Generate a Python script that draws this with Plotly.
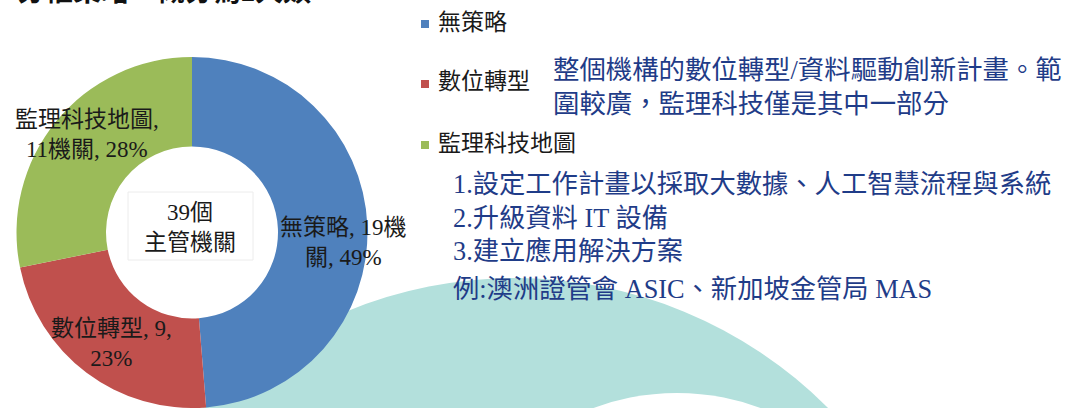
import plotly.graph_objects as go

W, H = 1065, 408

# ---- data ----
categories = ["無策略", "數位轉型", "監理科技地圖"]
counts = [19, 9, 11]
colors = ["#4f81bd", "#c0504d", "#9bbb59"]
total_label = "主管機關"
title_text = "分權策略—概分為2大類"
note_text = ["整個機構的數位轉型/資料驅動創新計畫。範", "圍較廣，監理科技僅是其中一部分"]
list_lines = [
    "1.設定工作計畫以採取大數據、人工智慧流程與系統",
    "2.升級資料 IT 設備",
    "3.建立應用解決方案",
    "例:澳洲證管會 ASIC、新加坡金管局 MAS",
]

total = sum(counts)
pcts = [round(100 * v / total) for v in counts]


def px(x):
    return x / W


def py(y):
    return 1 - y / H


SERIF = "Liberation Serif, Noto Sans CJK TC, serif"
TEXT_BLUE = "#1f3c88"

fig = go.Figure()
fig.add_trace(go.Pie(
    labels=categories,
    values=counts,
    marker=dict(colors=colors, line=dict(width=0)),
    hole=0.49,
    sort=False,
    direction="clockwise",
    rotation=0,
    textinfo="none",
    hoverinfo="label+value+percent",
    showlegend=False,
    domain=dict(x=[px(14), px(370)], y=[0, py(57)]),
))

shapes = []
# background teal arc (slide decoration)
cx, cy, r = 515, 720, 442
shapes.append(dict(type="circle", xref="paper", yref="paper", layer="below",
                   x0=px(cx - r), x1=px(cx + r), y0=py(cy + r), y1=py(cy - r),
                   fillcolor="#b3e0dc", line=dict(width=0)))
cx2, cy2, r2 = 677, 633, 240
shapes.append(dict(type="circle", xref="paper", yref="paper", layer="below",
                   x0=px(cx2 - r2), x1=px(cx2 + r2), y0=py(cy2 + r2), y1=py(cy2 - r2),
                   fillcolor="#ffffff", line=dict(width=0)))
# faint box around center text
shapes.append(dict(type="rect", xref="paper", yref="paper", layer="above",
                   x0=px(128), x1=px(253), y0=py(260), y1=py(192),
                   fillcolor="rgba(0,0,0,0)", line=dict(color="#ececec", width=1)))

annotations = []
# slice labels
slice_texts = [
    f"{categories[0]}, {counts[0]}機<br>關, {pcts[0]}%",
    f"{categories[1]}, {counts[1]},<br>{pcts[1]}%",
    f"{categories[2]},<br>{counts[2]}機關, {pcts[2]}%",
]
slice_pos = [(343, 242), (111, 343), (87, 135)]
for t, (x, y) in zip(slice_texts, slice_pos):
    annotations.append(dict(text=t, x=px(x), y=py(y), xref="paper", yref="paper",
                            xanchor="center", yanchor="middle", showarrow=False,
                            font=dict(family=SERIF, size=23, color="#1a1a1a")))
# center
annotations.append(dict(text=f"{total}個<br>{total_label}", x=px(190), y=py(227),
                        xref="paper", yref="paper", xanchor="center", yanchor="middle",
                        showarrow=False, font=dict(family=SERIF, size=23, color="#1a1a1a")))

# legend (manual)
leg_y = [22, 82, 143]
for cat, col, y in zip(categories, colors, leg_y):
    shapes.append(dict(type="rect", xref="paper", yref="paper", layer="above",
                       x0=px(421), x1=px(429), y0=py(y + 6), y1=py(y - 2),
                       fillcolor=col, line=dict(width=0)))
    annotations.append(dict(text=cat, x=px(436), y=py(y), xref="paper", yref="paper",
                            xanchor="left", yanchor="middle", showarrow=False,
                            font=dict(family=SERIF, size=23, color="#1a1a1a")))

# note text
annotations.append(dict(text="<br>".join(note_text), x=px(551), y=py(87),
                        xref="paper", yref="paper", xanchor="left", yanchor="middle",
                        align="left", showarrow=False,
                        font=dict(family=SERIF, size=26.4, color=TEXT_BLUE)))

# list lines
list_y = [185, 218, 251, 289]
for t, y in zip(list_lines, list_y):
    annotations.append(dict(text=t, x=px(451), y=py(y), xref="paper", yref="paper",
                            xanchor="left", yanchor="middle", showarrow=False,
                            font=dict(family=SERIF, size=26.3, color=TEXT_BLUE)))

# cut-off title
annotations.append(dict(text=title_text, x=px(15), y=py(-9), xref="paper", yref="paper",
                        xanchor="left", yanchor="middle", showarrow=False,
                        font=dict(family=SERIF, size=28, color="#111111", weight="bold")))

fig.update_layout(
    width=W, height=H,
    margin=dict(l=0, r=0, t=0, b=0),
    paper_bgcolor="white", plot_bgcolor="white",
    shapes=shapes, annotations=annotations,
    showlegend=False,
)

fig.write_html("out.html")
